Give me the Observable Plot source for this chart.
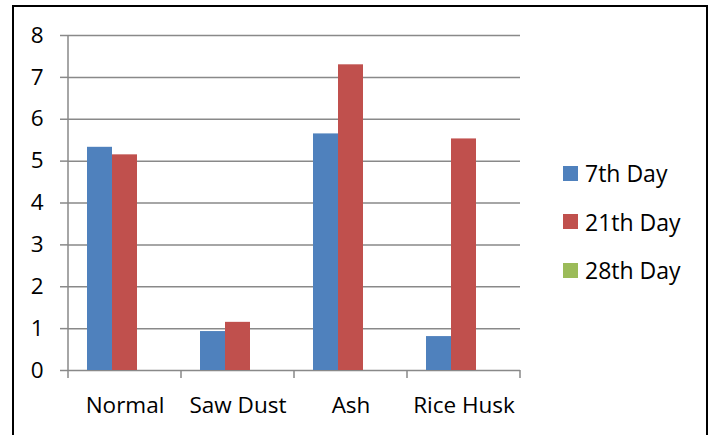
<!DOCTYPE html>
<html><head><meta charset="utf-8">
<script src="https://cdn.jsdelivr.net/npm/d3@7"></script>
<script src="https://cdn.jsdelivr.net/npm/@observablehq/plot@0.6"></script>
<style>
body{margin:0;background:#fff;}
#wrap{position:relative;width:712px;height:435px;overflow:hidden;font-family:"Open Sans",sans-serif;background:#fff;}
#box{position:absolute;left:12px;top:5px;width:696px;height:470px;border:2px solid #000;box-sizing:border-box;pointer-events:none;}
#chart{position:absolute;left:0;top:0;}
#legend{position:absolute;left:563px;top:149px;}
.item{display:flex;align-items:center;height:48.5px;font-size:23px;color:#000;}
.sw{width:15px;height:15px;margin-right:7px;}
</style>
</head><body>
<div id="wrap"><div id="chart"></div><div id="legend"></div><div id="box"></div></div>
<script>
const categories = ["Normal", "Saw Dust", "Ash", "Rice Husk"];
const series = ["7th Day", "21th Day", "28th Day"];
const day7 = [5.33, 0.93, 5.65, 0.81];
const day21 = [5.15, 1.15, 7.30, 5.53];
const day28 = [null, null, null, null];
const colors = ["#4F81BD", "#C0504D", "#9BBB59"];
const yTicks = [0, 1, 2, 3, 4, 5, 6, 7, 8];

const seriesValues = [day7, day21, day28];
const rows = categories.flatMap((c, i) =>
  series.map((s, j) => ({category: c, series: s, value: seriesValues[j][i]}))
).filter(d => d.value != null);

const grey = "#898989";
const chart = Plot.plot({
  width: 712, height: 435,
  marginLeft: 68, marginRight: 192, marginTop: 35, marginBottom: 65,
  fx: {domain: categories, padding: 0, label: null},
  x: {domain: series, paddingInner: 0, paddingOuter: 0.76, axis: null},
  y: {domain: [0, 8], label: null},
  color: {domain: series, range: colors},
  style: {fontFamily: "Open Sans", fontSize: "22.5px", color: "#000", background: "transparent", overflow: "visible"},
  marks: [
    Plot.gridY(yTicks, {stroke: grey, strokeOpacity: 1, strokeWidth: 1.5}),
    Plot.axisY(yTicks, {tickSize: 8, tickPadding: 17, stroke: grey, strokeWidth: 1.5, label: null, tickFormat: d => String(d)}),
    Plot.barY(rows, {fx: "category", x: "series", y: "value", fill: "series"}),
    Plot.axisFx({anchor: "bottom", tickSize: 0, tickPadding: 27, label: null})
  ]
});
document.getElementById("chart").appendChild(chart);

// y axis line and category boundary ticks, from Plot's scales
const fx = chart.scale("fx"), y = chart.scale("y");
const bounds = categories.map(c => fx.apply(c));
bounds.push(fx.apply(categories[categories.length - 1]) + fx.bandwidth);
const g = d3.select(chart).append("g").attr("stroke", grey).attr("stroke-width", 1.5);
g.append("line").attr("x1", bounds[0]).attr("x2", bounds[0]).attr("y1", y.apply(8)).attr("y2", y.apply(0));
g.selectAll("line.b").data(bounds).join("line").attr("class", "b")
  .attr("x1", d => d).attr("x2", d => d).attr("y1", y.apply(0)).attr("y2", y.apply(0) + 8);

const legend = d3.select("#legend");
series.forEach((s, j) => {
  const it = legend.append("div").attr("class", "item");
  it.append("div").attr("class", "sw").style("background", colors[j]);
  it.append("span").text(s);
});
</script>
</body></html>
